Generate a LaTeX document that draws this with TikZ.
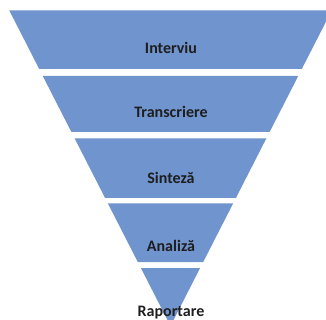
\documentclass[tikz,border=0pt]{standalone}
\usepackage{fontspec}
\setmainfont{Carlito}
\definecolor{bandblue}{RGB}{112,148,206}
\definecolor{stagetext}{RGB}{30,30,30}

\begin{document}
\begin{tikzpicture}[line cap=round,line join=round,x=1pt,y=-1pt,
		band/.style={fill=bandblue},
		stage/.style={color=stagetext,anchor=base,font=\fontsize{16}{18}\selectfont\bfseries}]
		\useasboundingbox (0,0) rectangle (326,320);
		\clip (0,0) rectangle (326,320);
		\fill [band] (9.3,10.5) -- (331.7,10.5) -- (301.8,69) -- (39.2,69) -- cycle;
		\fill [band] (42.75,76) -- (298.25,76) -- (269.6,132) -- (71.4,132) -- cycle;
		\fill [band] (74.7,138.5) -- (266.3,138.5) -- (235.9,198) -- (105.1,198) -- cycle;
		\fill [band] (107.9,203.5) -- (233.1,203.5) -- (203.2,262) -- (137.8,262) -- cycle;
		\fill [band] (140.9,268) -- (200.1,268) -- (170.5,326) -- cycle;
		\node [stage] (interviu) at (171,54) {Interviu};
		\node [stage] (transcriere) at (171,117.3) {Transcriere};
		\node [stage] (sinteza) at (171,183.3) {Sinteză};
		\node [stage] (analiza) at (171,251) {Analiză};
		\node [stage] (raportare) at (171,316.7) {Raportare};
	\end{tikzpicture}
\end{document}
